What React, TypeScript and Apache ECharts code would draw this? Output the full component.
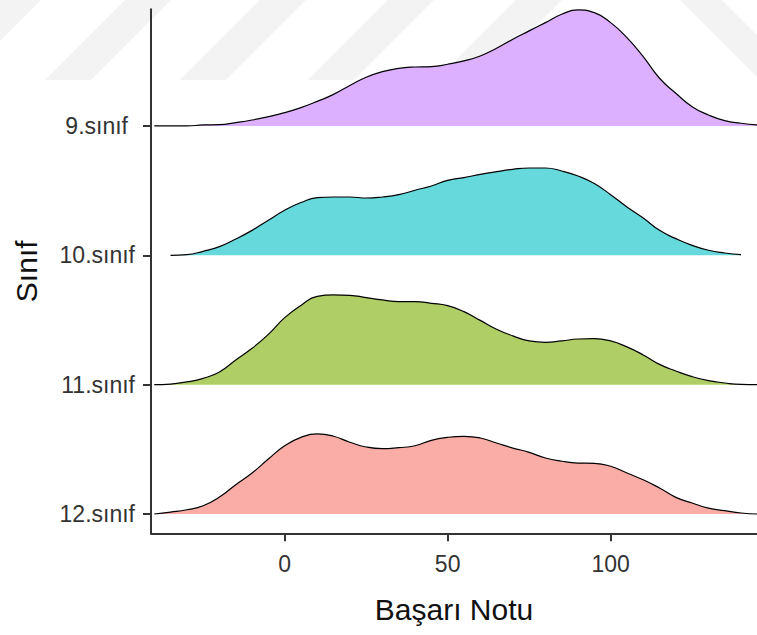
import { useEffect, useRef } from "react";
import * as echarts from "echarts";

// Row labels, bottom to top
const categories = ["12.sınıf", "11.sınıf", "10.sınıf", "9.sınıf"];
const xTicks = [0, 50, 100];

// Sample positions along "Başarı Notu"
const xValues = [
  -40, -35, -30, -25, -20, -15, -10, -5, 0, 5, 10, 15, 20, 25, 30, 35, 40, 45, 50,
  55, 60, 65, 70, 75, 80, 85, 90, 95, 100, 105, 110, 115, 120, 125, 130, 135, 140, 145,
];

// Ridge heights (fraction of the row spacing)
const d12 = [
  0, 0.015, 0.033, 0.064, 0.131, 0.227, 0.317, 0.425, 0.528, 0.593, 0.619, 0.601, 0.555,
  0.518, 0.505, 0.513, 0.528, 0.57, 0.593, 0.601, 0.588, 0.549, 0.51, 0.477, 0.433, 0.408,
  0.394, 0.392, 0.369, 0.317, 0.265, 0.201, 0.129, 0.085, 0.046, 0.026, 0.008, 0,
];
const d11 = [
  0, 0.005, 0.021, 0.049, 0.098, 0.191, 0.281, 0.389, 0.518, 0.613, 0.683, 0.694, 0.691,
  0.673, 0.655, 0.642, 0.642, 0.629, 0.611, 0.565, 0.497, 0.428, 0.377, 0.338, 0.327, 0.338,
  0.353, 0.356, 0.338, 0.292, 0.23, 0.157, 0.106, 0.062, 0.031, 0.013, 0.002, 0,
];
const d10 = [
  null, 0, 0.005, 0.031, 0.067, 0.126, 0.193, 0.271, 0.348, 0.408, 0.446, 0.451, 0.451,
  0.443, 0.451, 0.469, 0.503, 0.536, 0.58, 0.601, 0.626, 0.647, 0.665, 0.675, 0.675, 0.652,
  0.613, 0.555, 0.469, 0.374, 0.288, 0.193, 0.129, 0.077, 0.039, 0.018, 0.005, null,
];
const d9 = [
  0, 0, 0, 0.008, 0.01, 0.026, 0.046, 0.072, 0.103, 0.142, 0.19, 0.244, 0.313, 0.377, 0.42,
  0.446, 0.456, 0.459, 0.477, 0.503, 0.541, 0.601, 0.671, 0.735, 0.799, 0.864, 0.897, 0.876,
  0.799, 0.683, 0.536, 0.369, 0.253, 0.149, 0.085, 0.041, 0.021, 0.008,
];

const fills = ["#FAADA7", "#B0CE66", "#66D9DC", "#DDB0FF"];

// faint watermark stripes (pixel positions of their lower-left corners)
const stripeLeft = [-85, 45, 180, 308, 436];

const FONT = "'Liberation Sans', Arial, Helvetica, sans-serif";

export default function App() {
  const ref = useRef<HTMLDivElement>(null);

  useEffect(() => {
    const chart = echarts.init(ref.current!, null, { renderer: "svg" });
    const densities = [d12, d11, d10, d9];

    const series = densities.map((d, k) => {
      const base = k + 1;
      const data = xValues
        .map((x, i) => (d[i] == null ? null : [x, base + (d[i] as number)]))
        .filter((p) => p !== null);
      return {
        type: "line",
        name: categories[k],
        data,
        smooth: 0.5,
        showSymbol: false,
        symbol: "none",
        lineStyle: { color: "#000", width: 1.2 },
        areaStyle: { color: fills[k], opacity: 1, origin: base },
        z: 2,
      };
    });

    const stripes: any[] = stripeLeft.map((bx) => ({
      type: "polygon",
      shape: {
        points: [
          [bx, 80],
          [bx + 46, 80],
          [bx + 126, 0],
          [bx + 80, 0],
        ],
      },
      style: { fill: "#f3f3f3" },
      z: -10,
      silent: true,
    }));
    stripes.push({
      type: "polygon",
      shape: {
        points: [
          [680, 0],
          [722, 0],
          [802, 80],
          [760, 80],
        ],
      },
      style: { fill: "#f3f3f3" },
      z: -10,
      silent: true,
    });

    chart.setOption({
      animation: false,
      backgroundColor: "#fff",
      graphic: stripes,
      grid: {
        left: 151,
        right: 0,
        top: 9.3,
        bottom: 101.7,
        containLabel: false,
        outerBoundsMode: "none",
      },
      xAxis: {
        type: "value",
        min: -41,
        max: 144.9,
        name: "Başarı Notu",
        nameLocation: "middle",
        nameGap: 61,
        nameTextStyle: { fontSize: 30, color: "#111", fontFamily: FONT },
        axisLine: { show: true, onZero: false, lineStyle: { color: "#333", width: 2 } },
        axisTick: {
          show: true,
          customValues: xTicks,
          length: 8,
          lineStyle: { color: "#333", width: 2 },
        },
        axisLabel: {
          customValues: xTicks,
          margin: 19,
          fontSize: 23,
          color: "#333",
          fontFamily: FONT,
        },
        splitLine: { show: false },
      },
      yAxis: {
        type: "value",
        min: 0.851,
        max: 4.902,
        name: "Sınıf",
        nameLocation: "middle",
        nameGap: 110,
        nameTextStyle: { fontSize: 30, color: "#111", fontFamily: FONT },
        axisLine: { show: true, onZero: false, lineStyle: { color: "#333", width: 2 } },
        axisTick: {
          show: true,
          customValues: [1, 2, 3, 4],
          length: 8,
          lineStyle: { color: "#333", width: 2 },
        },
        axisLabel: {
          customValues: [1, 2, 3, 4],
          margin: 16,
          fontSize: 23,
          color: "#333",
          fontFamily: FONT,
          formatter: (v: number) => {
            const idx = Math.round(v) - 1;
            const c = categories[idx] ?? "";
            return idx === 3 ? `{p|${c}}` : c;
          },
          rich: {
            p: {
              padding: [0, 7, 0, 0],
              fontSize: 23,
              color: "#333",
              fontFamily: FONT,
            },
          },
        },
        splitLine: { show: false },
      },
      series,
    } as any);

    return () => chart.dispose();
  }, []);

  return (
    <div
      ref={ref}
      style={{ position: "fixed", left: 0, top: 0, width: 757, height: 635 }}
    />
  );
}
